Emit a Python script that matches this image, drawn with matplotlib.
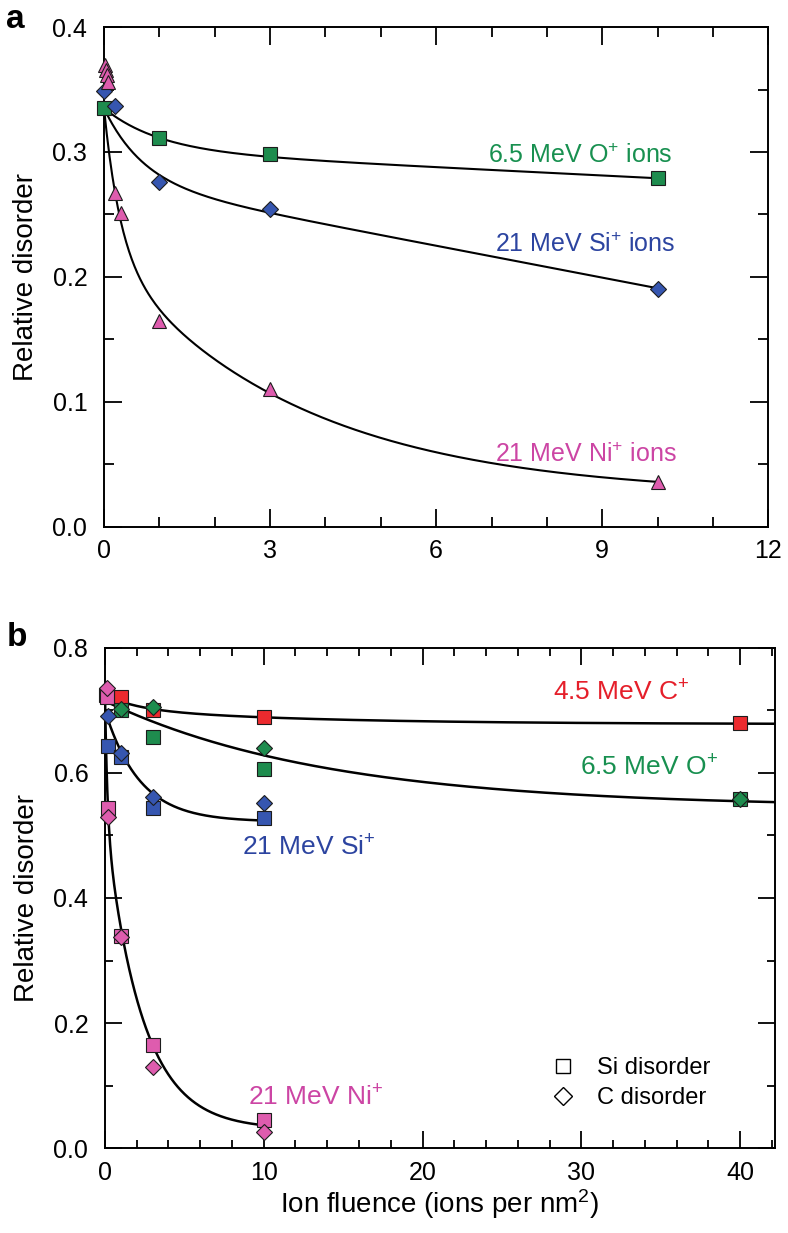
import numpy as np
import matplotlib.pyplot as plt
from matplotlib.lines import Line2D
from matplotlib.ticker import MultipleLocator

plt.rcParams['font.family'] = ['Liberation Sans', 'DejaVu Sans']
plt.rcParams['mathtext.fontset'] = 'custom'
plt.rcParams['mathtext.rm'] = 'Liberation Sans'
plt.rcParams['mathtext.default'] = 'regular'

# Panel a: relative disorder vs fluence (ions per nm^2)
a_o_x = [0.0, 1.0, 3.0, 10.0]
a_o_y = [0.335, 0.311, 0.298, 0.279]
a_si_x = [0.0, 0.2, 1.0, 3.0, 10.0]
a_si_y = [0.349, 0.337, 0.276, 0.254, 0.190]
a_ni_x = [0.02, 0.03, 0.05, 0.08, 0.2, 0.3, 1.0, 3.0, 10.0]
a_ni_y = [0.370, 0.366, 0.362, 0.356, 0.267, 0.251, 0.165, 0.110, 0.036]

# Panel b: Si disorder (squares) and C disorder (diamonds)
b_c_si_x = [0.05, 1.0, 3.0, 10.0, 40.0]
b_c_si_y = [0.725, 0.722, 0.700, 0.690, 0.680]
b_o_si_x = [1.0, 3.0, 10.0, 40.0]
b_o_si_y = [0.700, 0.658, 0.606, 0.558]
b_o_c_x = [1.0, 3.0, 10.0, 40.0]
b_o_c_y = [0.702, 0.706, 0.640, 0.558]
b_si_si_x = [0.2, 1.0, 3.0, 10.0]
b_si_si_y = [0.643, 0.626, 0.544, 0.528]
b_si_c_x = [0.2, 1.0, 3.0, 10.0]
b_si_c_y = [0.691, 0.632, 0.562, 0.552]
b_ni_si_x = [0.1, 0.2, 1.0, 3.0, 10.0]
b_ni_si_y = [0.722, 0.544, 0.340, 0.165, 0.045]
b_ni_c_x = [0.1, 0.2, 1.0, 3.0, 10.0]
b_ni_c_y = [0.736, 0.530, 0.338, 0.130, 0.026]

# fitted curves: y = c + A1*exp(-x/t1) + A2*exp(-x/t2) + k*x
fit_a_o = (0.301, 0.034, 1.0, 0.0, 1.0, -0.0022)
fit_a_si = (0.276, 0.059, 0.7, 0.0, 1.0, -0.0085)
fit_a_ni = (0.025, 0.117, 0.3, 0.193, 3.5, 0.0)
fit_b_c = (0.678, 0.022, 2.0, 0.025, 12.0, 0.0)
fit_b_o = (0.545, 0.17, 14.0, 0.0, 1.0, 0.0)
fit_b_si = (0.522, 0.178, 2.2, 0.0, 1.0, 0.0)
fit_b_ni = (0.03, 0.2, 0.15, 0.498, 2.3, 0.0)

green = '#1e8c4e'
blue = '#3656b0'
pink = '#de5cae'
red = '#ec2a2e'
green_txt = '#189050'
blue_txt = '#2c44a0'
pink_txt = '#cc45a4'
red_txt = '#e51f2a'
edge = '#1c1c1c'


def fit_curve(p, xmax):
    x = np.linspace(0, xmax, 400)
    c, a1, t1, a2, t2, k = p
    return x, c + a1 * np.exp(-x / t1) + a2 * np.exp(-x / t2) + k * x


def style_axes(ax, major_len, minor_len):
    for s in ax.spines.values():
        s.set_linewidth(1.4)
    ax.tick_params(which='both', direction='in', top=True, right=True,
                   width=1.3, labelsize=18)
    ax.tick_params(axis='y', pad=12)
    ax.tick_params(axis='x', pad=9)
    ax.tick_params(which='major', length=major_len)
    ax.tick_params(which='minor', length=minor_len)


def points(ax, x, y, marker, color, ms):
    ax.plot(x, y, ls='', marker=marker, mfc=color, mec=edge, mew=0.8,
            ms=ms, clip_on=False, zorder=3)


fig = plt.figure(figsize=(7.88, 12.33), dpi=100)

# ---- panel a ----
ax = fig.add_axes([0.132, 0.5726, 0.843, 0.4055])
for p in (fit_a_o, fit_a_si, fit_a_ni):
    x, y = fit_curve(p, 10)
    ax.plot(x, y, color='k', lw=1.5, zorder=2)
points(ax, a_o_x, a_o_y, 's', green, 9.5)
points(ax, a_si_x, a_si_y, 'D', blue, 8)
points(ax, a_ni_x, a_ni_y, '^', pink, 10)

ax.text(8.6, 0.297, '6.5 MeV O$^{+}$ ions', color=green_txt, fontsize=18,
        ha='center', va='center')
ax.text(8.7, 0.2256, '21 MeV Si$^{+}$ ions', color=blue_txt, fontsize=18,
        ha='center', va='center')
ax.text(8.7, 0.058, '21 MeV Ni$^{+}$ ions', color=pink_txt, fontsize=18,
        ha='center', va='center')

ax.set_xlim(0, 12)
ax.set_ylim(0, 0.4)
ax.xaxis.set_major_locator(MultipleLocator(3))
ax.xaxis.set_minor_locator(MultipleLocator(1))
ax.yaxis.set_major_locator(MultipleLocator(0.1))
ax.yaxis.set_minor_locator(MultipleLocator(0.05))
ax.yaxis.set_major_formatter(lambda v, pos: f'{v:.1f}')
style_axes(ax, 13, 7)
ax.set_ylabel('Relative disorder', fontsize=20, labelpad=10)
fig.text(0.008, 0.984, 'a', fontsize=24, fontweight='bold', va='center')

# ---- panel b ----
bx = fig.add_axes([0.1332, 0.0689, 0.8503, 0.4056])
for p, xmax in ((fit_b_c, 42.2), (fit_b_o, 42.2), (fit_b_si, 10), (fit_b_ni, 10)):
    x, y = fit_curve(p, xmax)
    bx.plot(x, y, color='k', lw=1.8, zorder=2)

points(bx, b_c_si_x, b_c_si_y, 's', red, 10)
points(bx, b_o_si_x, b_o_si_y, 's', green, 10)
points(bx, b_o_c_x, b_o_c_y, 'D', green, 8.5)
points(bx, b_si_si_x, b_si_si_y, 's', blue, 10)
points(bx, b_si_c_x, b_si_c_y, 'D', blue, 8.5)
points(bx, b_ni_si_x, b_ni_si_y, 's', pink, 10)
points(bx, b_ni_c_x, b_ni_c_y, 'D', pink, 8.5)

bx.text(36.8, 0.728, '4.5 MeV C$^{+}$', color=red_txt, fontsize=19,
        ha='right', va='center')
bx.text(38.6, 0.608, '6.5 MeV O$^{+}$', color=green_txt, fontsize=19,
        ha='right', va='center')
bx.text(8.6, 0.48, '21 MeV Si$^{+}$', color=blue_txt, fontsize=19,
        ha='left', va='center')
bx.text(9.0, 0.08, '21 MeV Ni$^{+}$', color=pink_txt, fontsize=19,
        ha='left', va='center')

handles = [Line2D([], [], ls='', marker='s', mfc='white', mec='k', mew=1.0, ms=10),
           Line2D([], [], ls='', marker='D', mfc='white', mec='k', mew=1.0, ms=9)]
bx.legend(handles, ['Si disorder', 'C disorder'], loc='center left',
          bbox_to_anchor=(0.63, 0.13), frameon=False, fontsize=17,
          handletextpad=0.45, labelspacing=0.35, borderpad=0)

bx.set_xlim(0, 42.2)
bx.set_ylim(0, 0.8)
bx.xaxis.set_major_locator(MultipleLocator(10))
bx.xaxis.set_minor_locator(MultipleLocator(2))
bx.yaxis.set_major_locator(MultipleLocator(0.2))
bx.yaxis.set_minor_locator(MultipleLocator(0.1))
bx.yaxis.set_major_formatter(lambda v, pos: f'{v:.1f}')
style_axes(bx, 12, 6)
bx.set_ylabel('Relative disorder', fontsize=20, labelpad=10)
bx.set_xlabel('Ion fluence (ions per nm$^{2}$)', fontsize=20, labelpad=2)
fig.text(0.008, 0.483, 'b', fontsize=24, fontweight='bold', va='center')

fig.savefig('out.png', dpi=100)
